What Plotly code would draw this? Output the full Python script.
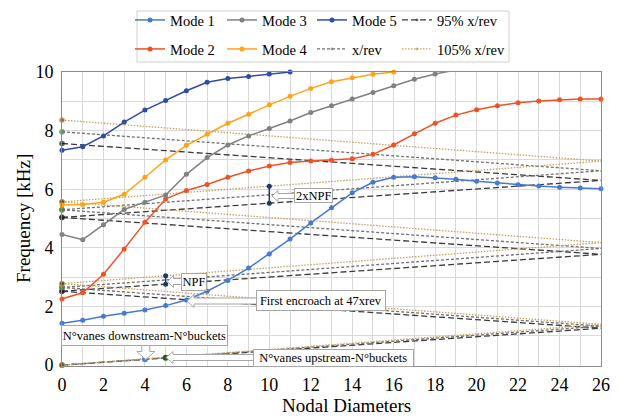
import plotly.graph_objects as go

# ---------------- data ----------------
nd = list(range(27))
mode1 = [1.43, 1.53, 1.67, 1.77, 1.88, 2.03, 2.22, 2.52, 2.89, 3.31, 3.79, 4.30, 4.85, 5.37,
         5.88, 6.24, 6.41, 6.43, 6.39, 6.34, 6.27, 6.21, 6.15, 6.11, 6.07, 6.04, 6.02]
mode2 = [2.26, 2.47, 3.10, 3.96, 4.87, 5.67, 5.96, 6.16, 6.41, 6.62, 6.79, 6.91, 6.96, 6.99,
         7.04, 7.19, 7.51, 7.89, 8.25, 8.53, 8.71, 8.85, 8.95, 9.01, 9.05, 9.08, 9.08]
mode3 = [4.46, 4.28, 4.79, 5.31, 5.56, 5.80, 6.51, 7.08, 7.51, 7.82, 8.07, 8.33, 8.62, 8.85,
         9.08, 9.30, 9.53, 9.75, 9.93, 10.07]
mode4 = [5.46, 5.48, 5.56, 5.83, 6.41, 7.00, 7.50, 7.88, 8.25, 8.56, 8.88, 9.17, 9.44, 9.67,
         9.80, 9.92, 10.00]
mode5 = [7.33, 7.45, 7.82, 8.29, 8.70, 9.03, 9.36, 9.65, 9.78, 9.85, 9.93, 10.00]

nd_span = [0, 26]
rev95_start = [0.00, 2.52, 2.52, 5.04, 5.04, 7.56]
rev95_end = [1.26, 1.26, 3.78, 3.78, 6.30, 6.30]
rev100_start = [0.00, 2.65, 2.65, 5.30, 5.30, 7.96]
rev100_end = [1.33, 1.33, 3.98, 3.98, 6.63, 6.63]
rev105_start = [0.00, 2.78, 2.78, 5.57, 5.57, 8.36]
rev105_end = [1.39, 1.39, 4.18, 4.18, 6.96, 6.96]

npf_nd = [5, 5]
npf_freq = [3.05, 2.76]
npf2_nd = [10, 10]
npf2_freq = [6.10, 5.52]
down_nd = [4]
down_freq = [0.20]
up_nd = [5]
up_freq = [0.25]

x_ticks = list(range(0, 27, 2))
y_ticks = list(range(0, 11, 2))

# ---------------- geometry (screen pixels; page body adds an 8px offset) ----------------
OFF = 8
W, H = 620, 420
L, R, T, B = 62, 19, 72, 54
X_RANGE = [0, 26]
Y_RANGE = [-0.03, 10.0]
PW, PH = W - L - R, H - T - B
FONT = "Liberation Serif"


def px_x(px):
    return X_RANGE[0] + (px - L) / PW * (X_RANGE[1] - X_RANGE[0])


def px_y(py):
    return Y_RANGE[0] + (H - B - py) / PH * (Y_RANGE[1] - Y_RANGE[0])


def paper_x(px):
    return (px - L) / PW


def paper_y(py):
    return (H - B - py) / PH


fig = go.Figure()


def rev_trace(starts, ends, name, color, dash, mcolor, legend, rank, lw):
    xs, ys, sz = [], [], []
    for s, e in zip(starts, ends):
        xs += [nd_span[0], nd_span[1], None]
        ys += [s, e, None]
        sz += [5, 0, 0]
    fig.add_trace(go.Scatter(
        x=xs, y=ys, name=name, mode="lines+markers", legend=legend, legendrank=rank,
        legendwidth=lw,
        line=dict(color=color, width=1.3, dash=dash),
        marker=dict(color=mcolor, size=sz, symbol="circle"),
        cliponaxis=False, connectgaps=False))


rev_trace(rev95_start, rev95_end, "95% x/rev", "#3a3a3a", "6px,3px", "#1a1a1a", "legend", 4, 70)
rev_trace(rev100_start, rev100_end, "x/rev", "#707070", "3px,2px", "#3d8c2e", "legend2", 7, 40)
rev_trace(rev105_start, rev105_end, "105% x/rev", "#c4a263", "1.5px,1.5px", "#5c3b0e", "legend2", 8, 70)

modes = [
    ("Mode 1", mode1, "#4679cf", "legend", 1, 47),
    ("Mode 2", mode2, "#ee5226", "legend2", 5, 47),
    ("Mode 3", mode3, "#808080", "legend", 2, 45),
    ("Mode 4", mode4, "#ffa31a", "legend2", 6, 45),
    ("Mode 5", mode5, "#2e4ca8", "legend", 3, 40),
]
for name, vals, col, lg, rk, lw in modes:
    n_in = sum(1 for v in vals if v <= Y_RANGE[1] + 1e-9)
    if n_in < len(vals):
        fig.add_trace(go.Scatter(
            x=nd[n_in - 1:len(vals)], y=vals[n_in - 1:], mode="lines", showlegend=False,
            line=dict(color=col, width=1.5), cliponaxis=True, hoverinfo="skip"))
    fig.add_trace(go.Scatter(
        x=nd[:n_in], y=vals[:n_in], name=name, mode="lines+markers", legend=lg, legendrank=rk,
        legendwidth=lw,
        line=dict(color=col, width=1.5), marker=dict(color=col, size=5),
        cliponaxis=False))

for xs, ys in [(npf_nd, npf_freq), (npf2_nd, npf2_freq)]:
    fig.add_trace(go.Scatter(x=xs, y=ys, mode="lines+markers", showlegend=False,
                             line=dict(color="#1f3864", width=1.5),
                             marker=dict(color="#1f3864", size=5), cliponaxis=False))
fig.add_trace(go.Scatter(x=down_nd, y=down_freq, mode="markers", showlegend=False,
                         marker=dict(color="#4a86d8", size=6), cliponaxis=False))
fig.add_trace(go.Scatter(x=up_nd, y=up_freq, mode="markers", showlegend=False,
                         marker=dict(color="#2f5a22", size=6), cliponaxis=False))


# ---------------- callouts ----------------
def block_arrow(tx, ty, direction, length, shaft, head_w, head_l):
    if direction == "left":
        pts = [(tx, ty), (tx + head_l, ty - head_w / 2), (tx + head_l, ty - shaft / 2),
               (tx + length, ty - shaft / 2), (tx + length, ty + shaft / 2),
               (tx + head_l, ty + shaft / 2), (tx + head_l, ty + head_w / 2)]
    else:  # down
        pts = [(tx, ty), (tx - head_w / 2, ty - head_l), (tx - shaft / 2, ty - head_l),
               (tx - shaft / 2, ty - length), (tx + shaft / 2, ty - length),
               (tx + shaft / 2, ty - head_l), (tx + head_w / 2, ty - head_l)]
    path = "M " + " L ".join(f"{px_x(a):.4f},{px_y(b):.4f}" for a, b in pts) + " Z"
    fig.add_shape(type="path", path=path, xref="x", yref="y", layer="above",
                  fillcolor="white", line=dict(color="#a6a6a6", width=1))


block_arrow(167.5, 281.5, "left", 16, 6, 12, 6)
block_arrow(272, 196, "left", 24, 5, 11, 6)
block_arrow(187, 301, "left", 72, 6, 13, 7)
block_arrow(145.8, 359.5, "down", 16, 8, 18, 8)
block_arrow(166, 357.5, "left", 90, 6, 12, 7)


def callout(text, x0, x1, y0, y1):
    fig.add_annotation(
        text=text, x=px_x((x0 + x1) / 2), y=px_y((y0 + y1) / 2), xref="x", yref="y",
        showarrow=False, width=(x1 - x0) - 4, height=(y1 - y0) - 4, borderpad=1,
        bgcolor="white", bordercolor="#a6a6a6", borderwidth=1, align="center", valign="middle",
        font=dict(family=FONT, size=12.5, color="#000000"))


callout("NPF", 180.7, 206.7, 272.7, 290.7)
callout("2xNPF", 293.3, 332.7, 188.3, 203.3)
callout("First encroach at 47xrev", 256, 385.7, 289.3, 310.7)
callout("N°vanes downstream-N°buckets", 60.7, 227.3, 325, 346)
callout("N°vanes upstream-N°buckets", 252.7, 413.3, 349, 366.7)

# axis titles
fig.add_annotation(text="Nodal Diameters", x=paper_x(346.5), y=paper_y(405), xref="paper", yref="paper",
                   showarrow=False, xanchor="center", yanchor="middle",
                   font=dict(family=FONT, size=19, color="#000000"))
fig.add_annotation(text="Frequency [kHz]", x=paper_x(23), y=paper_y(219), xref="paper", yref="paper",
                   showarrow=False, textangle=-90, xanchor="center", yanchor="middle",
                   font=dict(family=FONT, size=19, color="#000000"))

# legend frame
fig.add_shape(type="rect", xref="paper", yref="paper",
              x0=paper_x(137), x1=paper_x(509), y0=paper_y(62), y1=paper_y(11),
              line=dict(color="#d0d0d0", width=1), fillcolor="rgba(0,0,0,0)", layer="above")

axis_common = dict(showgrid=True, gridcolor="#d9d9d9", gridwidth=1, zeroline=False,
                   showline=True, mirror=True, linecolor="#8c8c8c", linewidth=1, ticks="",
                   tickfont=dict(family=FONT, size=18, color="#000000"))

fig.update_layout(
    width=W - OFF, height=H - OFF,
    margin=dict(l=L - OFF, r=R, t=T - OFF, b=B, autoexpand=False),
    paper_bgcolor="white", plot_bgcolor="white",
    font=dict(family=FONT, color="#000000"),
    xaxis=dict(range=X_RANGE, tickvals=x_ticks, minor=dict(dtick=1, tick0=0, showgrid=True,
               gridcolor="#d9d9d9"), ticklabelstandoff=2, automargin=False, **axis_common),
    yaxis=dict(range=Y_RANGE, tickvals=y_ticks, minor=dict(dtick=1, tick0=0, showgrid=True,
               gridcolor="#d9d9d9"), ticklabelstandoff=4, automargin=False, **axis_common),
    legend=dict(orientation="h", x=paper_x(130), y=paper_y(4), xanchor="left", yanchor="top",
                entrywidth=45, entrywidthmode="pixels", bgcolor="rgba(0,0,0,0)", borderwidth=0,
                font=dict(family=FONT, size=14.5, color="#000000"), traceorder="normal"),
    legend2=dict(orientation="h", x=paper_x(130), y=paper_y(33), xanchor="left", yanchor="top",
                 entrywidth=45, entrywidthmode="pixels", bgcolor="rgba(0,0,0,0)", borderwidth=0,
                 font=dict(family=FONT, size=14.5, color="#000000"), traceorder="normal"),
    showlegend=True,
)

fig.write_html("out.html")
